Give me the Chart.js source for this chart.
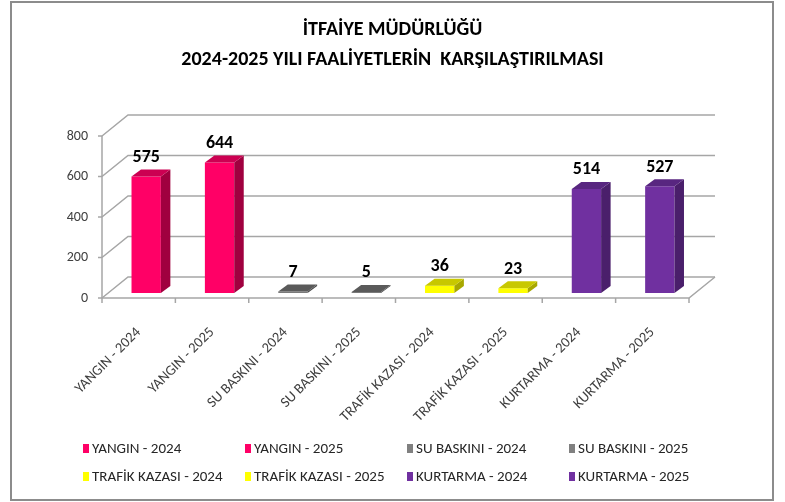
<!DOCTYPE html>
<html>
<head>
<meta charset="utf-8">
<script src="https://cdn.jsdelivr.net/npm/chart.js@4.4.1/dist/chart.umd.min.js"></script>
<style>
html,body{margin:0;padding:0;background:#fff;}
#wrap{position:relative;width:785px;height:502px;overflow:hidden;background:#fff;}
#c{position:absolute;left:0;top:0;}
#frame{position:absolute;left:10px;top:1px;width:760px;height:496px;border:2px solid #8c8c8c;pointer-events:none;}
#legend{position:absolute;left:0;top:0;width:785px;height:502px;pointer-events:none;
  font-family:Carlito,"Liberation Sans Narrow","DejaVu Sans Condensed",sans-serif;font-size:15px;color:#262626;}
.li{position:absolute;display:flex;align-items:center;white-space:nowrap;height:16px;}
.sw{width:6px;height:9px;margin-right:3px;flex:none;}
</style>
</head>
<body>
<div id="wrap">
  <canvas id="c" width="785" height="502"></canvas>
  <div id="legend"></div>
  <div id="frame"></div>
</div>
<script>
// ---- data ----
const titleLines = ['İTFAİYE MÜDÜRLÜĞÜ', '2024-2025 YILI FAALİYETLERİN  KARŞILAŞTIRILMASI'];
const categories = ['YANGIN - 2024', 'YANGIN - 2025', 'SU BASKINI - 2024', 'SU BASKINI - 2025',
                    'TRAFİK KAZASI - 2024', 'TRAFİK KAZASI - 2025', 'KURTARMA - 2024', 'KURTARMA - 2025'];
const values = [575, 644, 7, 5, 36, 23, 514, 527];
const yTicks = [0, 200, 400, 600, 800];

// ---- styles ----
const FONT = 'Carlito, "Liberation Sans Narrow", "DejaVu Sans Condensed", sans-serif';
const frontColors = ['#FF0066', '#FF0066', '#7A7A7A', '#7A7A7A', '#FFFF00', '#FFFF00', '#7030A0', '#7030A0'];
const topColors   = ['#CC0052', '#CC0052', '#5A5A5A', '#5A5A5A', '#C8C800', '#C8C800', '#582680', '#582680'];
const sideColors  = ['#A0003F', '#A0003F', '#4A4A4A', '#4A4A4A', '#A8A800', '#A8A800', '#4A1F6B', '#4A1F6B'];
const legendColors= ['#FF0066', '#FF0066', '#808080', '#808080', '#FFFF00', '#FFFF00', '#7030A0', '#7030A0'];

const BAR_SHIFT_X = 7.5;   // bar plane offset from front plane
const BAR_SHIFT_Y = -5;
const WALL_DX = 26, WALL_DY = -21;
const BAR_DX = 9.5, BAR_DY = -7;
const GRID = '#a6a6a6';

const threeD = {
  id: 'threeD',
  beforeDatasetsDraw(chart) {
    const {ctx, chartArea: a, scales: {x, y}} = chart;
    const fl = a.left, fr = a.right;
    ctx.save();
    ctx.strokeStyle = GRID;
    ctx.lineWidth = 1.5;
    y.ticks.forEach(t => {
      const py = y.getPixelForValue(t.value);
      ctx.beginPath();
      ctx.moveTo(fl, py);
      ctx.lineTo(fl + WALL_DX, py + WALL_DY);
      ctx.lineTo(fr + WALL_DX, py + WALL_DY);
      ctx.stroke();
      ctx.beginPath();
      ctx.moveTo(fl - 4, py);
      ctx.lineTo(fl, py);
      ctx.stroke();
    });
    const p0 = y.getPixelForValue(0);
    ctx.beginPath();
    ctx.moveTo(fl, p0);
    ctx.lineTo(fr, p0);
    ctx.lineTo(fr + WALL_DX, p0 + WALL_DY);
    ctx.stroke();
    ctx.beginPath();
    ctx.moveTo(fl, y.getPixelForValue(y.max));
    ctx.lineTo(fl, p0);
    ctx.stroke();
    const n = x.ticks.length;
    const cw = (fr - fl) / n;
    for (let i = 0; i <= n; i++) {
      const px = fl + i * cw;
      ctx.beginPath();
      ctx.moveTo(px, p0);
      ctx.lineTo(px, p0 + 5);
      ctx.stroke();
    }
    ctx.restore();
    ctx.save();
    ctx.translate(BAR_SHIFT_X, BAR_SHIFT_Y);
  },
  afterDatasetsDraw(chart) {
    const {ctx} = chart;
    const meta = chart.getDatasetMeta(0);
    meta.data.forEach((el, i) => {
      const p = el.getProps(['x', 'y', 'base', 'width'], true);
      const l = p.x - p.width / 2, r = p.x + p.width / 2;
      const top = Math.min(p.y, p.base), bot = Math.max(p.y, p.base);
      ctx.fillStyle = sideColors[i];
      ctx.beginPath();
      ctx.moveTo(r, top); ctx.lineTo(r + BAR_DX, top + BAR_DY);
      ctx.lineTo(r + BAR_DX, bot + BAR_DY); ctx.lineTo(r, bot);
      ctx.closePath(); ctx.fill();
      ctx.fillStyle = topColors[i];
      ctx.beginPath();
      ctx.moveTo(l, top); ctx.lineTo(l + BAR_DX, top + BAR_DY);
      ctx.lineTo(r + BAR_DX, top + BAR_DY); ctx.lineTo(r, top);
      ctx.closePath(); ctx.fill();
      ctx.fillStyle = '#000';
      ctx.font = 'bold 18px ' + FONT;
      ctx.textAlign = 'center';
      ctx.textBaseline = 'bottom';
      ctx.fillText(String(values[i]), p.x, top + BAR_DY - 3);
    });
    ctx.restore();
  }
};

new Chart(document.getElementById('c'), {
  type: 'bar',
  data: {
    labels: categories,
    datasets: [{
      data: values,
      backgroundColor: frontColors,
      borderWidth: 0,
      categoryPercentage: 1.0,
      barPercentage: 0.40
    }]
  },
  options: {
    responsive: false,
    animation: false,
    devicePixelRatio: 1,
    layout: {padding: 0},
    plugins: {
      legend: {display: false},
      tooltip: {enabled: false},
      title: {
        display: true,
        text: titleLines,
        color: '#000',
        font: {family: FONT, size: 20, weight: 'bold', lineHeight: 1.5},
        padding: {top: 15, bottom: 61}
      }
    },
    scales: {
      x: {
        grid: {display: false},
        border: {display: false},
        ticks: {
          autoSkip: false, maxRotation: 45, minRotation: 45,
          font: {family: FONT, size: 14.5}, color: '#404040', padding: 18
        },
        afterFit(s) { s.height = 204; s.paddingLeft = 0; s.paddingRight = 0; }
      },
      y: {
        min: 0, max: 800,
        grid: {display: false},
        border: {display: false},
        afterBuildTicks(s) { s.ticks = yTicks.map(v => ({value: v})); },
        ticks: {font: {family: FONT, size: 14}, color: '#404040', padding: 6},
        afterFit(s) { s.width = 102; s.paddingTop = 0; s.paddingBottom = 0; }
      },
      yRight: {
        position: 'right',
        display: true,
        min: 0, max: 800,
        grid: {display: false},
        border: {display: false},
        ticks: {display: false},
        afterFit(s) { s.width = 96; s.paddingTop = 0; s.paddingBottom = 0; }
      }
    }
  },
  plugins: [threeD]
});

const leg = document.getElementById('legend');
categories.forEach((c, i) => {
  const d = document.createElement('div');
  d.className = 'li';
  d.style.left = (83 + (i % 4) * 162) + 'px';
  d.style.top = (440 + Math.floor(i / 4) * 28) + 'px';
  const sw = document.createElement('span');
  sw.className = 'sw';
  sw.style.background = legendColors[i];
  const tx = document.createElement('span');
  tx.textContent = c;
  d.appendChild(sw); d.appendChild(tx);
  leg.appendChild(d);
});
</script>
</body>
</html>
